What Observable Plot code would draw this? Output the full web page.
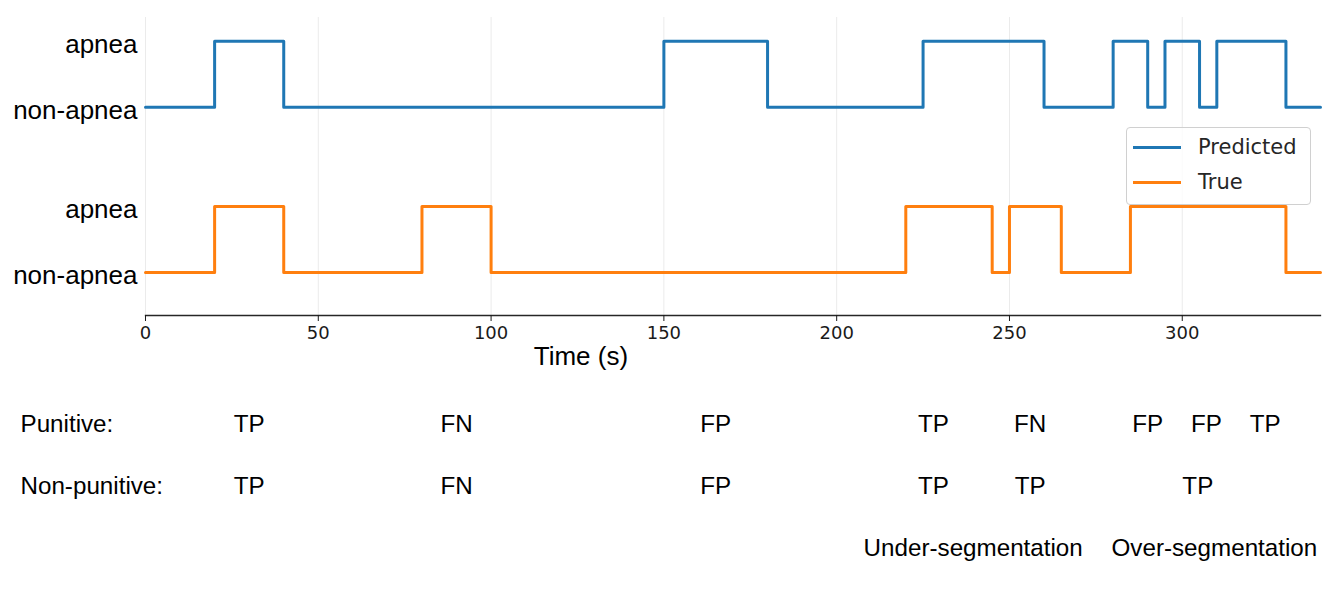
<!DOCTYPE html>
<html>
<head>
<meta charset="utf-8">
<script src="https://cdn.jsdelivr.net/npm/d3@7"></script>
<script src="https://cdn.jsdelivr.net/npm/@observablehq/plot@0.6"></script>
<style>
  html, body { margin: 0; padding: 0; background: #fff; }
  #wrap { position: relative; width: 1339px; }
  #wrap svg { display: block; }
  .legend {
    position: absolute; left: 1126px; top: 127px; width: 183px; height: 76px;
    border: 1px solid #d0d0d0; border-radius: 4px; background: rgba(255,255,255,0.8);
    font-family: "DejaVu Sans", sans-serif; font-size: 21px; color: #262626;
  }
  .legend .row { position: absolute; left: 0; height: 30px; display: flex; align-items: center; }
  .legend .sw { width: 48px; height: 3px; margin-left: 6px; margin-right: 17px; }
</style>
</head>
<body>
<div id="wrap"></div>
<script>
// ---- data ----
const xTicks = [0, 50, 100, 150, 200, 250, 300];
const timeDomain = [0, 340];

// change points (s) and state (1 = apnea, 0 = non-apnea)
const predictedTimes  = [0, 20, 40, 150, 180, 225, 260, 280, 290, 295, 305, 310, 330, 340];
const predictedStates = [0, 1,  0,  1,   0,   1,   0,   1,   0,   1,   0,   1,   0,   0];
const trueTimes  = [0, 20, 40, 80, 100, 220, 245, 250, 265, 285, 330, 340];
const trueStates = [0, 1,  0,  1,  0,   1,   0,   1,   0,   1,   0,   0];

const stateLabels = ["non-apnea", "apnea"];
const seriesNames = ["Predicted", "True"];
const seriesColors = ["#1f77b4", "#ff7f0e"];

const xLabel = "Time (s)";
const xLabelAt = 126;

const rowKeys = ["punitive", "nonPunitive", "segmentation"];
const rowLabels = ["Punitive:", "Non-punitive:", ""];

const punitiveLabels = ["TP", "FN", "FP", "TP", "FN", "FP", "FP", "TP"];
const punitiveAt     = [30, 90, 165, 228, 256, 290, 307, 324];
const nonPunitiveLabels = ["TP", "FN", "FP", "TP", "TP", "TP"];
const nonPunitiveAt     = [30, 90, 165, 228, 256, 304.5];
const segLabels = ["Under-segmentation", "Over-segmentation"];
const segAt     = [239.5, 309.3];

// ---- layout constants ----
const predOffset = 2.5; // vertical offset of the predicted trace
const yDomain = [-0.65, 3.86];

// ---- build tables ----
const traces = [
  ...predictedTimes.map((t, i) => ({series: "Predicted", t, v: predictedStates[i] + predOffset})),
  ...trueTimes.map((t, i) => ({series: "True", t, v: trueStates[i]}))
];
const yTickVals = [0, 1, predOffset, predOffset + 1];
const yTickText = new Map([[0, stateLabels[0]], [1, stateLabels[1]], [predOffset, stateLabels[0]], [predOffset + 1, stateLabels[1]]]);

const annotations = [
  ...punitiveLabels.map((label, i) => ({row: "punitive", at: punitiveAt[i], label})),
  ...nonPunitiveLabels.map((label, i) => ({row: "nonPunitive", at: nonPunitiveAt[i], label})),
  ...segLabels.map((label, i) => ({row: "segmentation", at: segAt[i], label}))
];
const rowTable = rowKeys.map((row, i) => ({row, label: rowLabels[i]}));

const topChart = Plot.plot({
  width: 1339, height: 375,
  marginLeft: 145, marginRight: 19, marginTop: 17, marginBottom: 60,
  style: {background: "white", fontFamily: "'DejaVu Sans', sans-serif"},
  x: {domain: timeDomain},
  y: {domain: yDomain},
  color: {domain: seriesNames, range: seriesColors},
  marks: [
    Plot.gridX(xTicks, {stroke: "#ebebeb", strokeOpacity: 1, strokeWidth: 1}),
    Plot.frame({anchor: "bottom", stroke: "#262626", strokeWidth: 1.3}),
    Plot.axisX({ticks: xTicks, tickSize: 6, tickPadding: 5, fontSize: 18, label: null,
                color: "#1a1a1a", fontFamily: "'DejaVu Sans', sans-serif"}),
    Plot.axisY({ticks: yTickVals, tickFormat: d => yTickText.get(d), tickSize: 0, tickPadding: 8, dy: 3,
                fontSize: 26, label: null, color: "#000", fontFamily: "'Liberation Sans', Arial, sans-serif"}),
    Plot.line(traces, {x: "t", y: "v", z: "series", stroke: "series", curve: "step-after", strokeWidth: 3}),
    Plot.text([xLabel], {x: () => xLabelAt, frameAnchor: "bottom", lineAnchor: "top", dy: 31,
                         text: d => d, fontSize: 26, fill: "#000", fontFamily: "'Liberation Sans', Arial, sans-serif"})
  ]
});

const bottomChart = Plot.plot({
  width: 1339, height: 221,
  marginLeft: 145, marginRight: 19, marginTop: 0, marginBottom: 0,
  style: {background: "white"},
  x: {domain: timeDomain, axis: null},
  y: {type: "point", domain: rowKeys, range: [48.5, 172.5], padding: 0, axis: null},
  marks: [
    Plot.text(annotations, {x: "at", y: "row", text: "label", fontSize: 24.2, fill: "#000",
                            fontFamily: "'Liberation Sans', Arial, sans-serif"}),
    Plot.text(rowTable, {y: "row", text: "label", frameAnchor: "left", dx: -125, textAnchor: "start",
                         fontSize: 24.2, fill: "#000", fontFamily: "'Liberation Sans', Arial, sans-serif"})
  ]
});

const wrap = document.getElementById("wrap");
wrap.appendChild(topChart);
wrap.appendChild(bottomChart);

const legend = document.createElement("div");
legend.className = "legend";
seriesNames.forEach((name, i) => {
  const row = document.createElement("div");
  row.className = "row";
  row.style.top = (4 + i * 35) + "px";
  const sw = document.createElement("span");
  sw.className = "sw";
  sw.style.background = seriesColors[i];
  const tx = document.createElement("span");
  tx.textContent = name;
  row.appendChild(sw); row.appendChild(tx);
  legend.appendChild(row);
});
wrap.appendChild(legend);
</script>
</body>
</html>
